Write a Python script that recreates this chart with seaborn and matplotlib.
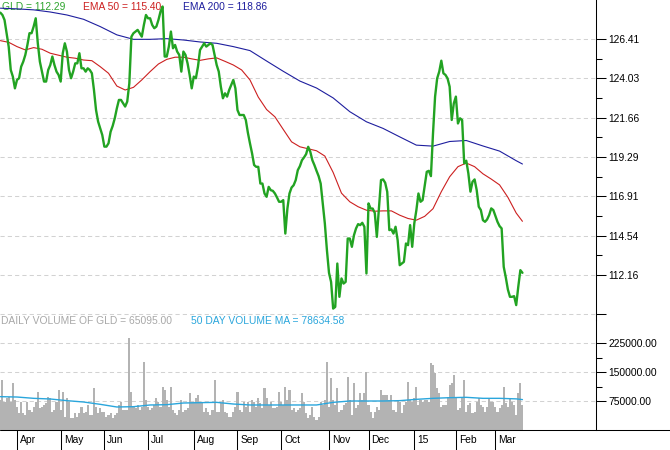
import numpy as np
import pandas as pd
import matplotlib
matplotlib.use("Agg")
import matplotlib.pyplot as plt
import matplotlib.transforms as mtransforms
from matplotlib.lines import Line2D
from matplotlib.ticker import FixedLocator, FixedFormatter, NullFormatter
import seaborn as sns
from pandas.tseries.offsets import CustomBusinessDay

# ---------------- data ----------------
START_DATE = "2014-03-20"
HOLIDAYS = ["2014-04-18", "2014-05-26", "2014-07-04", "2014-09-01", "2014-11-27",
            "2014-12-25", "2015-01-01", "2015-01-19", "2015-02-16"]

gld_close = [
    128.00, 127.86, 127.56, 126.76, 125.95, 124.54, 124.14, 123.43, 123.94, 124.04,
    124.74, 125.04, 125.45, 126.05, 126.76, 126.76, 127.16, 127.66, 126.15, 125.04,
    124.44, 123.84, 123.84, 124.54, 124.84, 125.35, 124.84, 124.44, 124.24, 123.84,
    125.55, 126.15, 125.65, 124.54, 124.04, 124.44, 124.94, 124.94, 125.55, 124.64,
    124.64, 124.44, 124.64, 124.54, 124.34, 123.33, 122.12, 121.42, 121.02, 120.61,
    119.91, 119.91, 120.11, 120.81, 121.16, 121.62, 122.22, 122.73, 122.73, 122.53,
    122.33, 122.63, 123.73, 126.55, 126.76, 126.86, 126.96, 126.76, 126.55, 127.26,
    127.86, 127.66, 127.66, 127.26, 127.06, 127.16, 127.56, 128.07, 128.37, 125.35,
    125.35, 125.95, 126.86, 125.85, 126.05, 125.65, 125.45, 124.44, 125.65, 125.45,
    124.94, 124.24, 123.43, 124.14, 124.04, 124.74, 125.75, 125.95, 126.15, 125.95,
    126.05, 126.15, 126.05, 125.45, 124.84, 124.44, 123.53, 122.83, 123.13, 122.93,
    123.33, 123.63, 123.94, 123.43, 122.12, 121.82, 121.82, 121.82, 121.52, 120.75,
    120.11, 119.51, 118.80, 118.69, 118.69, 117.68, 117.68, 117.08, 116.88, 117.48,
    117.28, 117.24, 117.08, 116.84, 116.58, 116.58, 116.68, 114.66, 116.17, 117.08,
    117.44, 117.58, 117.89, 118.49, 118.73, 119.09, 119.26, 119.46, 119.90, 119.60,
    119.09, 118.79, 118.45, 118.13, 117.68, 116.48, 115.27, 113.66, 112.29, 111.74,
    110.13, 110.23, 112.85, 110.84, 111.95, 111.64, 111.74, 114.36, 114.36, 113.86,
    114.56, 114.97, 115.23, 115.17, 115.31, 115.07, 112.25, 116.48, 116.17, 116.17,
    115.91, 114.46, 116.17, 117.89, 117.93, 117.73, 117.18, 114.87, 114.91, 114.66,
    115.07, 114.26, 112.75, 112.85, 112.95, 114.06, 113.96, 115.17, 113.86, 115.27,
    116.07, 117.08, 116.58, 116.68, 117.52, 118.39, 118.45, 118.13, 120.70, 122.93,
    124.03, 124.44, 125.10, 124.34, 124.24, 124.03, 123.53, 121.52, 122.52, 122.93,
    121.31, 121.62, 121.52, 118.90, 119.06, 118.29, 117.19, 117.79, 117.93, 117.29,
    116.28, 116.08, 115.47, 115.37, 115.51, 115.78, 116.18, 116.08, 115.72, 115.37,
    115.11, 114.97, 112.65, 112.01, 111.28, 110.84, 110.84, 110.88, 110.34, 111.45,
    112.45, 112.29,
]

volume_k = [
    77.6, 129.3, 73.3, 81.9, 86.2, 73.3, 120.7, 77.6, 60.3, 43.1,
    73.3, 43.1, 38.8, 73.3, 51.7, 47.4, 60.3, 73.3, 99.1, 56.0,
    60.3, 64.7, 69.0, 86.2, 81.9, 47.4, 51.7, 73.3, 103.4, 51.7,
    99.1, 34.5, 81.9, 73.3, 30.2, 30.2, 43.1, 34.5, 43.1, 60.3,
    43.1, 47.4, 64.7, 38.8, 38.8, 107.8, 60.3, 43.1, 56.0, 47.4,
    47.4, 34.5, 38.8, 43.1, 30.2, 38.8, 43.1, 64.7, 73.3, 51.7,
    51.7, 51.7, 237.1, 99.1, 60.3, 56.0, 64.7, 51.7, 60.3, 176.7,
    77.6, 60.3, 51.7, 56.0, 64.7, 81.9, 73.3, 60.3, 112.1, 103.4,
    77.6, 60.3, 112.1, 51.7, 43.1, 38.8, 51.7, 77.6, 47.4, 51.7,
    56.0, 94.8, 73.3, 73.3, 81.9, 90.5, 73.3, 69.0, 47.4, 56.0,
    47.4, 38.8, 51.7, 129.3, 47.4, 47.4, 69.0, 77.6, 47.4, 43.1,
    34.5, 34.5, 47.4, 60.3, 99.1, 51.7, 47.4, 73.3, 60.3, 73.3,
    47.4, 77.6, 73.3, 60.3, 81.9, 69.0, 56.0, 107.8, 81.9, 64.7,
    73.3, 56.0, 56.0, 60.3, 99.1, 73.3, 64.7, 112.1, 77.6, 103.4,
    51.7, 56.0, 47.4, 51.7, 56.0, 94.8, 73.3, 43.1, 30.2, 38.8,
    60.3, 34.5, 25.9, 34.5, 73.3, 64.7, 77.6, 176.7, 60.3, 133.6,
    77.6, 64.7, 107.8, 47.4, 51.7, 64.7, 69.0, 137.9, 77.6, 38.8,
    120.7, 56.0, 64.7, 94.8, 77.6, 94.8, 150.9, 64.7, 47.4, 30.2,
    47.4, 60.3, 51.7, 103.4, 90.5, 90.5, 90.5, 77.6, 90.5, 51.7,
    47.4, 77.6, 73.3, 43.1, 64.7, 73.3, 125.0, 77.6, 73.3, 81.9,
    112.1, 64.7, 77.6, 73.3, 77.6, 77.6, 73.3, 172.4, 168.1, 146.5,
    107.8, 94.8, 60.3, 64.7, 64.7, 86.2, 116.4, 120.7, 142.2, 81.9,
    51.7, 56.0, 81.9, 129.3, 47.4, 64.7, 69.0, 43.1, 47.4, 73.3,
    81.9, 64.7, 60.3, 47.4, 60.3, 81.9, 73.3, 73.3, 60.3, 47.4,
    56.0, 64.7, 112.1, 69.0, 60.3, 81.9, 73.3, 64.7, 38.8, 94.8,
    120.7, 65.1,
]

ema50_day = [0, 4, 8, 12, 16, 20, 24, 28, 32, 36, 40, 44, 48, 52, 56, 60, 64, 68, 72, 76,
             80, 84, 88, 92, 96, 100, 104, 108, 112, 116, 120, 124, 128, 132, 136, 140,
             144, 148, 152, 156, 160, 164, 168, 172, 176, 180, 184, 188, 192, 196, 200,
             204, 208, 212, 216, 220, 224, 228, 232, 236, 240, 244, 248, 251]
ema50_val = [126.31, 126.21, 125.95, 125.75, 125.89, 125.79, 125.55, 125.43, 125.31, 125.25,
             125.14, 125.10, 124.74, 124.34, 123.57, 123.33, 123.49, 123.94, 124.44, 124.90,
             125.18, 125.31, 125.31, 125.21, 125.12, 125.21, 125.27, 125.06, 124.84, 124.54,
             123.94, 122.90, 122.15, 121.71, 120.95, 120.20, 119.90, 119.78, 119.66, 119.34,
             118.35, 117.10, 116.58, 116.28, 116.07, 116.01, 116.03, 116.03, 115.77, 115.57,
             115.47, 115.70, 116.16, 117.19, 118.09, 118.70, 118.92, 118.70, 118.27, 117.95,
             117.60, 116.85, 115.90, 115.40]

ema200_day = [0, 8, 16, 24, 32, 40, 48, 56, 64, 72, 80, 88, 96, 104, 112, 120, 128, 136,
              144, 152, 160, 168, 176, 184, 192, 200, 208, 216, 224, 232, 240, 248, 251]
ema200_val = [128.27, 128.23, 128.17, 128.04, 127.86, 127.60, 127.16, 126.66, 126.39, 126.39,
              126.43, 126.35, 126.23, 126.15, 125.95, 125.71, 125.08, 124.46, 123.87, 123.45,
              122.85, 122.02, 121.41, 121.01, 120.50, 120.00, 119.94, 120.22, 120.28, 119.95,
              119.64, 119.06, 118.86]

vol_ma_day = [0, 8, 16, 24, 32, 40, 48, 56, 64, 72, 80, 88, 96, 104, 112, 120, 128, 136,
              144, 152, 160, 168, 176, 184, 192, 200, 208, 216, 224, 232, 240, 248, 251]
vol_ma_k = [86.2, 85.3, 81.9, 80.2, 75.9, 72.4, 66.4, 59.5, 60.3, 64.7, 65.5, 69.8, 70.7,
            71.5, 67.2, 64.7, 64.7, 64.7, 64.7, 64.7, 71.5, 75.0, 75.0, 75.0, 75.9, 79.3,
            81.9, 83.6, 84.5, 81.9, 81.9, 80.5, 78.63]

price_ticks = [126.41, 124.03, 121.66, 119.29, 116.91, 114.54, 112.16, 109.78]
price_tick_labels = ["126.41", "124.03", "121.66", "119.29", "116.91", "114.54", "112.16", ""]
vol_ticks = [225000, 150000, 75000]
vol_tick_labels = ["225000.00", "150000.00", "75000.00"]
month_labels = ["Apr", "May", "Jun", "Jul", "Aug", "Sep", "Oct", "Nov", "Dec", "15", "Feb", "Mar"]

legend_gld = "GLD = 112.29"
legend_ema50 = "EMA 50 = 115.40"
legend_ema200 = "EMA 200 = 118.86"
legend_vol = "DAILY VOLUME OF GLD = 65095.00"
legend_volma = "50 DAY VOLUME MA = 78634.58"

# ---------------- style ----------------
sns.set_style("white")
plt.rcParams["font.family"] = ["Liberation Sans", "DejaVu Sans"]
FS = 7.4

C_PRICE = "#22a322"
C_EMA50 = "#cc2020"
C_EMA200 = "#1e1e9e"
C_VOL = "#b3b3b3"
C_VOLMA = "#2aa6dc"
C_GRID = "#d2d2d2"

W, H = 670, 450
fig = plt.figure(figsize=(W / 100, H / 100), dpi=100)
fig.patch.set_facecolor("white")

AX_R = 596
ax_p = fig.add_axes([0, 130 / H, AX_R / W, 320 / H])
ax_v = fig.add_axes([0, 20 / H, AX_R / W, 110 / H])

n = len(gld_close)
dates = pd.date_range(START_DATE, periods=n, freq=CustomBusinessDay(holidays=HOLIDAYS))
idx = np.arange(n)
price_df = pd.DataFrame({"day": idx, "close": gld_close, "volume": np.array(volume_k) * 1000})
month_start = [i for i in range(1, n) if dates[i].month != dates[i - 1].month]

# ---------------- price panel ----------------
sns.lineplot(x=ema200_day, y=ema200_val, ax=ax_p, color=C_EMA200, lw=0.8, zorder=3)
sns.lineplot(x=ema50_day, y=ema50_val, ax=ax_p, color=C_EMA50, lw=0.8, zorder=3)
sns.lineplot(data=price_df, x="day", y="close", ax=ax_p, color=C_PRICE, lw=1.7, zorder=4)

# ---------------- volume panel ----------------
ax_v.bar(price_df["day"], price_df["volume"], width=1.0, color=C_VOL, linewidth=0, zorder=2)
sns.lineplot(x=vol_ma_day, y=np.array(vol_ma_k) * 1000, ax=ax_v, color=C_VOLMA, lw=1.0, zorder=3)

# ---------------- axes formatting ----------------
x_left = -0.36 / 2.08
x_right = (AX_R - 0.36) / 2.08
for ax in (ax_p, ax_v):
    ax.set_xlim(x_left, x_right)
    ax.set_facecolor("none")
    ax.set_xlabel("")
    ax.set_ylabel("")
    ax.yaxis.tick_right()
    for s in ("left", "top", "bottom"):
        ax.spines[s].set_visible(False)
    ax.spines["right"].set_visible(True)
    ax.spines["right"].set_color("black")
    ax.spines["right"].set_linewidth(0.75)
    ax.tick_params(axis="y", which="major", direction="out", length=7.2, width=0.75,
                   color="black", labelsize=FS, pad=1.5, labelcolor="black",
                   left=False, right=True)
    ax.tick_params(axis="y", which="minor", direction="out", length=4.3, width=0.75,
                   color="black", left=False, right=True)

ax_p.set_ylim(109.44, 128.765)
ax_p.yaxis.set_major_locator(FixedLocator(price_ticks))
ax_p.yaxis.set_major_formatter(FixedFormatter(price_tick_labels))
ax_p.yaxis.set_minor_locator(FixedLocator(
    [(a + b) / 2 for a, b in zip(price_ticks[:-2], price_ticks[1:-1])]))
ax_p.set_xticks([])
ax_p.grid(axis="y", which="major", color=C_GRID, linestyle=(0, (4, 3)), lw=0.75, zorder=0)

ax_v.set_ylim(0, 110 / 29 * 75000)
ax_v.yaxis.set_major_locator(FixedLocator(vol_ticks))
ax_v.yaxis.set_major_formatter(FixedFormatter(vol_tick_labels))
ax_v.yaxis.set_minor_locator(FixedLocator([187500, 112500]))
ax_v.grid(axis="y", which="major", color=C_GRID, linestyle=(0, (4, 3)), lw=0.75, zorder=0)
ax_v.set_axisbelow(True)
ax_p.set_axisbelow(True)

# month ticks
ax_v.set_xticks(month_start)
ax_v.set_xticklabels([""] * len(month_start))
ax_v.tick_params(axis="x", which="major", direction="out", length=14.4, width=0.75,
                 color="black", bottom=True, top=False)
ax_v.xaxis.set_tick_params(which="minor", bottom=False)
trans = mtransforms.blended_transform_factory(ax_v.transData, fig.transFigure)
trans = mtransforms.offset_copy(trans, fig=fig, x=3, y=0, units="dots")
for i, lab in zip(month_start, month_labels):
    ax_v.text(i, 1 - 440 / H, lab, transform=trans, ha="left", va="center",
              fontsize=FS, color="black", clip_on=False)

# full-width bottom axis line
fig.add_artist(Line2D([0, 1], [1 - 430 / H, 1 - 430 / H], transform=fig.transFigure,
                      color="black", lw=0.75))

# ---------------- legends (texts) ----------------
def ftext(ax, x, y, s, color):
    ax.text(x / W, 1 - y / H, s, transform=fig.transFigure, ha="left", va="center",
            fontsize=FS, color=color, zorder=1, clip_on=False)

ftext(ax_p, 1.5, 7, legend_gld, "#2ea52e")
ftext(ax_p, 83, 7, legend_ema50, C_EMA50)
ftext(ax_p, 183, 7, legend_ema200, C_EMA200)
ftext(ax_v, 1, 321.5, legend_vol, "#a8a8a8")
ftext(ax_v, 190.5, 321.5, legend_volma, C_VOLMA)

fig.savefig("out.png", dpi=100, facecolor="white")
